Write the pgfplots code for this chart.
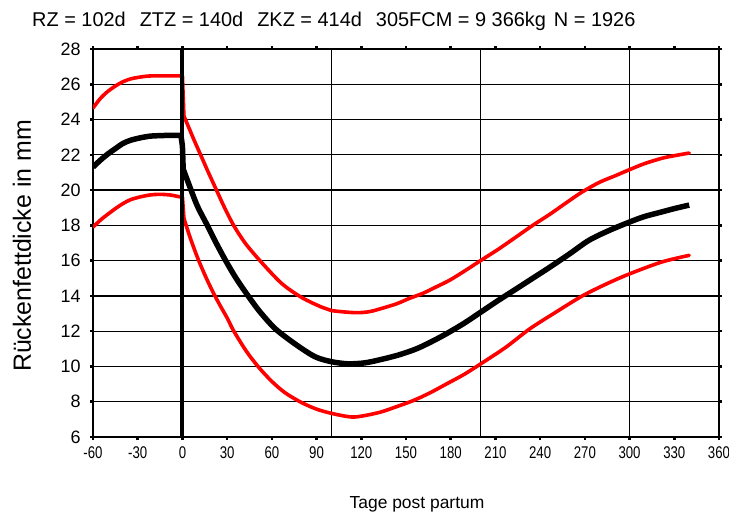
\documentclass[border=0pt]{standalone}
\usepackage{fontspec}
\setmainfont{Liberation Sans}
\newfontfamily\narrowfont[FakeStretch=0.78]{Liberation Sans}
\usepackage{pgfplots}
\pgfplotsset{compat=1.18}

\begin{document}
\begin{tikzpicture}
\begin{axis}[
  at={(0,0)}, anchor=south west,
  width=626bp, height=388bp, scale only axis,
  xmin=-60, xmax=360, ymin=6, ymax=28,
  xtick={-60,-30,...,360},
  xticklabels={-60,-30,0,30,60,90,120,150,180,210,240,270,300,330,360},
  ytick={6,8,...,28},
  yticklabels={6,8,10,12,14,16,18,20,22,24,26,28},
  ymajorgrids,
  extra x ticks={100,200,300},
  extra x tick labels={},
  extra x tick style={grid=major, major tick length=0pt},
  grid style={black, line width=1.2bp},
  axis line style={line width=1.8bp},
  tick align=outside,
  major tick length=3bp,
  tick style={black, line width=2.5bp},
  x tick label style={font=\narrowfont\fontsize{17}{17}\selectfont, yshift=-3bp},
  y tick label style={font=\fontsize{18}{18}\selectfont, xshift=-6bp},
  redline/.style={red, line width=3.6bp, line join=round, line cap=round},
  meanline/.style={black, line width=5.5bp, line join=round},
]
%% untere Grenze
\addplot[redline, smooth] coordinates {
  (-60,17.9) (-55,18.3) (-51,18.57) (-45,18.95) (-40,19.23) (-35,19.45)
  (-29,19.6) (-22,19.72) (-15.5,19.76) (-8,19.72) (-2,19.62) (0,19.6)
};
\addplot[redline] coordinates {(0,19.6) (1,18.4)};
\addplot[redline, smooth] coordinates {
  (1,18.4) (5,17.35) (10,16.2) (15,15.2) (20,14.3) (25,13.5) (30,12.75)
  (34.5,12.0) (43,10.85) (51.2,9.95) (60,9.15) (69,8.5) (80,7.95)
  (90,7.58) (100,7.34) (112.5,7.14) (120,7.18) (132.4,7.4) (143,7.7)
  (154.7,8.06) (166,8.5) (177,9.0) (189,9.55) (200,10.14) (217,11.09)
  (233,12.13) (250,13.05) (268.3,14.0) (285,14.7) (300,15.25)
  (321.5,15.92) (340,16.3)
};
%% obere Grenze
\addplot[redline, smooth] coordinates {
  (-60,24.65) (-55,25.2) (-50,25.6) (-45,25.9) (-40,26.14) (-35,26.3)
  (-29,26.4) (-22,26.47) (-10,26.48) (0,26.47)
};
\addplot[redline] coordinates {(0,26.47) (1,24.2)};
\addplot[redline, smooth] coordinates {
  (1,24.2) (4,23.6) (8,22.8) (12.3,21.98)
  (17,21.08) (22.3,20.1) (28,19.05) (34.5,17.98) (42.4,16.96) (53.5,15.86)
  (66.8,14.69) (80.2,13.9) (93.5,13.36) (100,13.17) (115.8,13.05)
  (125,13.1) (132,13.25) (143.6,13.55) (152,13.85) (161.4,14.15)
  (170,14.5) (179.5,14.9) (190,15.45) (200,16.0) (212,16.65) (224,17.35)
  (235,18.0) (246,18.6) (257,19.25) (268.3,19.9) (280,20.45) (290,20.8)
  (300,21.16) (310,21.5) (321.5,21.8) (330,21.95) (340,22.1)
};
%% Mittelwert
\addplot[meanline, smooth] coordinates {
  (-60,21.3) (-55,21.7) (-50,22.05) (-45,22.35) (-40,22.64) (-35,22.82)
  (-29,22.95) (-24,23.03) (-20,23.07) (-10,23.1) (-1,23.1)
};
\addplot[meanline] coordinates {(-1,23.1) (0,22.5) (0.5,21.2)};
\addplot[meanline, smooth] coordinates {
  (0.5,21.2) (4,20.4) (10,19.1) (16.7,18.0) (22,17.1) (29,16.0)
  (36,15.0) (44.5,13.95) (52,13.1) (62.4,12.13) (76,11.25) (89,10.55)
  (100,10.27) (111,10.15) (122,10.2) (132,10.37) (145,10.65) (157,11.0)
  (167,11.4) (177,11.85) (189,12.45) (200,13.07) (212,13.75) (224,14.4)
  (235,15.0) (246,15.6) (260,16.4) (272.7,17.15) (286,17.7) (300,18.19)
  (310,18.5) (321.5,18.76) (330,18.95) (340,19.15)
};
%% Kalbung
\addplot[black, line width=4bp] coordinates {(0,6) (0,28)};
\end{axis}
\node[anchor=base west, font=\fontsize{20}{20}\selectfont, inner sep=0pt] at (-61bp,410bp)
  {RZ = 102d\hspace{14bp}ZTZ = 140d\hspace{14bp}ZKZ = 414d\hspace{14bp}305FCM = 9 366kg\hspace{8bp}N = 1926};
\node[rotate=90, font=\fontsize{25}{25}\selectfont, inner sep=0pt] at (-71bp,191bp) {Rückenfettdicke in mm};
\node[anchor=base, font=\fontsize{17.5}{17.5}\selectfont, inner sep=0pt] at (324bp,-71bp) {Tage post partum};
\pgfresetboundingbox
\path (-93bp,-75bp) rectangle (636bp,437bp);
\end{tikzpicture}
\end{document}
